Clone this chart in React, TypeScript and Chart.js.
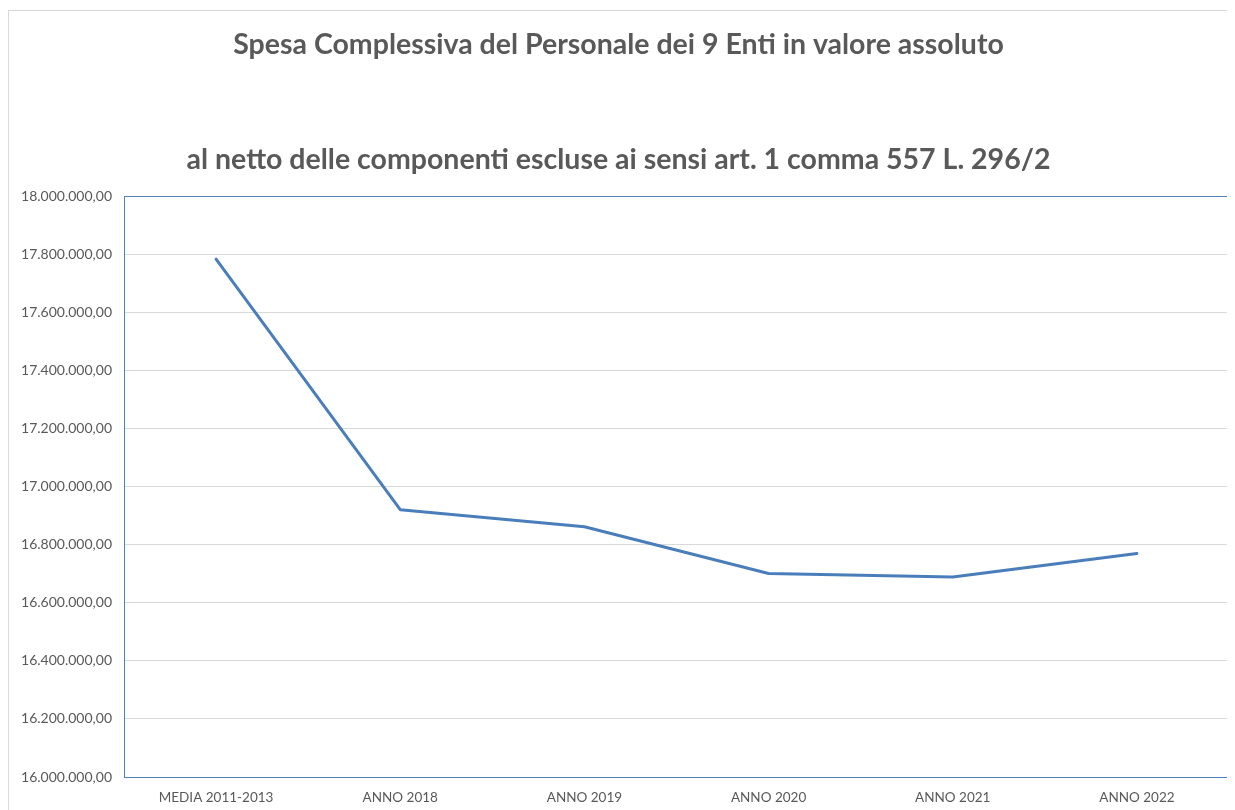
import React, { useEffect, useRef } from "react";
import { Chart, registerables } from "chart.js";

Chart.register(...registerables);

const titleLines = [
  "Spesa Complessiva del Personale dei 9 Enti in valore assoluto",
  "",
  "al netto delle componenti escluse ai sensi art. 1 comma 557 L. 296/2",
];
const categories = [
  "MEDIA 2011-2013",
  "ANNO 2018",
  "ANNO 2019",
  "ANNO 2020",
  "ANNO 2021",
  "ANNO 2022",
];
const spesa = [17784000, 16921000, 16862000, 16701000, 16689000, 16770000];
const yMin = 16000000;
const yMax = 18000000;
const yStep = 200000;

const TEXT = "#595959";
const LINE = "#4A7EBB";
const GRID = "#D9D9D9";

function fmt(v: number): string {
  const int = Math.round(v).toString();
  const withDots = int.replace(/\B(?=(\d{3})+(?!\d))/g, ".");
  return withDots + ",00";
}

const framePlugin = {
  id: "frame",
  beforeDraw(chart: any) {
    const ctx = chart.ctx;
    ctx.save();
    ctx.fillStyle = "#FFFFFF";
    ctx.fillRect(0, 0, chart.width, chart.height);
    ctx.strokeStyle = GRID;
    ctx.lineWidth = 1;
    ctx.strokeRect(0.5, 2.5, chart.width + 20, chart.height + 20);
    ctx.restore();
  },
  afterDatasetsDraw(chart: any) {
    const { left, top, right, bottom } = chart.chartArea;
    const ctx = chart.ctx;
    ctx.save();
    ctx.strokeStyle = "#4F81BD";
    ctx.lineWidth = 1;
    ctx.strokeRect(Math.round(left) + 0.5, Math.round(top) + 0.5, Math.round(right - left), Math.round(bottom - top));
    ctx.restore();
  },
};

export default function App() {
  const ref = useRef<HTMLCanvasElement | null>(null);
  useEffect(() => {
    if (!ref.current) return;
    const chart = new Chart(ref.current, {
      type: "line",
      data: {
        labels: categories,
        datasets: [
          {
            data: spesa,
            borderColor: LINE,
            backgroundColor: LINE,
            borderWidth: 3,
            pointRadius: 0,
            tension: 0,
            borderJoinStyle: "round",
            borderCapStyle: "round",
          },
        ],
      },
      options: {
        animation: false,
        responsive: true,
        maintainAspectRatio: false,
        layout: { padding: { left: 0, right: 6, top: 0, bottom: 4 } },
        plugins: {
          legend: { display: false },
          tooltip: { enabled: false },
          title: {
            display: true,
            text: titleLines,
            color: TEXT,
            font: { family: "Lato", size: 28.5, weight: "bold", lineHeight: 2.0175 },
            padding: { top: 8, bottom: 8 },
          },
        },
        scales: {
          x: {
            offset: true,
            afterFit(scale: any) {
              scale.height = 29;
            },
            grid: { display: false, drawTicks: false },
            border: { display: false },
            ticks: {
              color: TEXT,
              font: { family: "Lato", size: 13.5 },
              padding: 13,
              maxRotation: 0,
              autoSkip: false,
            },
          },
          y: {
            min: yMin,
            max: yMax,
            afterFit(scale: any) {
              scale.width = 116;
            },
            grid: { color: GRID, drawTicks: false },
            border: { display: false },
            ticks: {
              stepSize: yStep,
              color: TEXT,
              font: { family: "Lato", size: 14 },
              padding: 12,
              callback: (v: any) => fmt(Number(v)),
            },
          },
        },
      },
      plugins: [framePlugin],
    });
    return () => chart.destroy();
  }, []);
  return (
    <div style={{ width: 1227, height: 802, position: "relative" }}>
      <canvas ref={ref} />
    </div>
  );
}
